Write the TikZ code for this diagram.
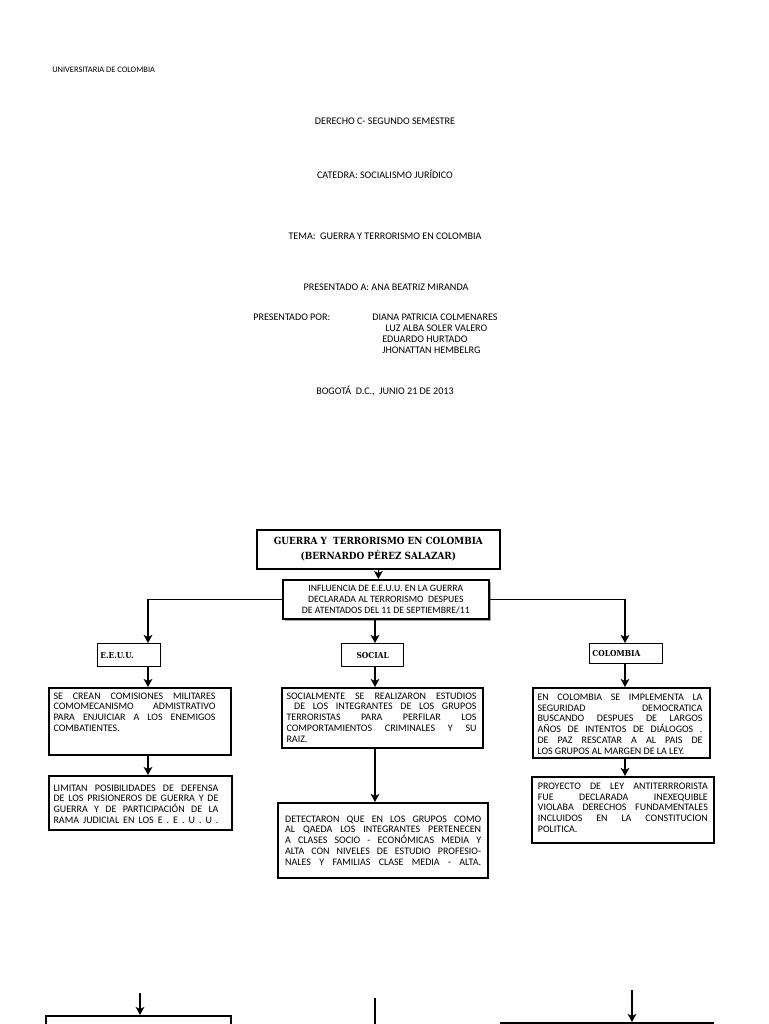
\documentclass[tikz,border=0pt]{standalone}
\usepackage{fontspec}
\setmainfont{Carlito}
\newfontfamily\slab{DejaVu Serif}[FakeStretch=0.9]
\usetikzlibrary{arrows.meta,shadows}
\newlength\jw
\newcommand\jl[1]{\makebox[\jw][s]{#1}\\}
% #1 box width px, #2 box height px, #3 text width px, #4 text
\newcommand\boxtxt[4]{\parbox[c][\dimexpr #2pt*3/4-7pt\relax][t]{\dimexpr #1pt*3/4-7pt\relax}{\setlength\jw{\dimexpr #3pt*3/4\relax}\fontsize{7.5}{8.1}\selectfont #4}}
\tikzset{
  arr/.style={line width=1.2pt,-{Stealth[length=6pt,width=6.5pt,inset=1.5pt]}},
  ln/.style={line width=1.2pt},
  bx/.style={draw,line width=1.3pt,inner sep=3.5pt,anchor=north west,fill=white},
  sbx/.style={draw,line width=1.1pt,inner xsep=2pt,inner ysep=0pt,anchor=north west,fill=white,
    font=\slab\bfseries\fontsize{6.2}{7}\selectfont},
  hd/.style={font=\fontsize{7.6}{9}\selectfont,inner sep=0pt}
}
\begin{document}
\begin{tikzpicture}[x=0.75pt,y=-0.75pt]
\useasboundingbox[fill=white] (0,0) rectangle (768,1024);
% header
\node[hd,anchor=west,font=\fontsize{6.3}{7}\selectfont] (uni) at (52,70) {UNIVERSITARIA DE COLOMBIA};
\node[hd] (der) at (385,121) {DERECHO C- SEGUNDO SEMESTRE};
\node[hd] (cat) at (385,174) {CATEDRA: SOCIALISMO JURÍDICO};
\node[hd] (tema) at (385,236) {TEMA:\ \ GUERRA Y TERRORISMO EN COLOMBIA};
\node[hd] (pa) at (386,287) {PRESENTADO A: ANA BEATRIZ MIRANDA};
\node[hd,anchor=west] (pp) at (253,317) {PRESENTADO POR:};
\node[hd,anchor=west] (n1) at (372,317) {DIANA PATRICIA COLMENARES};
\node[hd,anchor=west] (n2) at (385,328) {LUZ ALBA SOLER VALERO};
\node[hd,anchor=west] (n3) at (382,339) {EDUARDO HURTADO};
\node[hd,anchor=west] (n4) at (382,350) {JHONATTAN HEMBELRG};
\node[hd] (bog) at (385,391) {BOGOTÁ\ \ D.C.,\ \ JUNIO 21 DE 2013};
% diagram
\node[bx,minimum width=243*0.75pt,minimum height=39*0.75pt,align=center,inner sep=1pt,
  font=\slab\bfseries\fontsize{7.4}{11.5}\selectfont] (title) at (256,529)
  {GUERRA Y\ \ TERRORISMO EN COLOMBIA\\(BERNARDO PÉREZ SALAZAR)};
\node[bx,minimum width=206*0.75pt,minimum height=39*0.75pt,align=center,inner sep=1pt,
  drop shadow={shadow xshift=1.5pt,shadow yshift=-1.5pt,fill=black!70},
  font=\fontsize{7.3}{8.1}\selectfont] (infl) at (282,579)
  {INFLUENCIA DE E.E.U.U. EN LA GUERRA\\DECLARADA AL TERRORISMO\ \ DESPUES\\DE ATENTADOS DEL 11 DE SEPTIEMBRE/11};
\node[sbx,minimum width=63*0.75pt,minimum height=23*0.75pt,text width=63*0.75pt-4pt,align=left] (eeuu) at (97,643) {E.E.U.U.};
\node[sbx,minimum width=62*0.75pt,minimum height=23*0.75pt,text width=62*0.75pt-4pt,align=center] (soc) at (341,643) {SOCIAL};
\node[sbx,minimum width=73*0.75pt,minimum height=20*0.75pt,text width=73*0.75pt-4pt,align=left] (col) at (589,643) {COLOMBIA};
% row 1
\node[bx] (l1) at (48,687) {\boxtxt{182}{67}{162}{%
  \jl{SE CREAN COMISIONES MILITARES}\jl{COMOMECANISMO ADMISTRATIVO}\jl{PARA ENJUICIAR A LOS ENEMIGOS}COMBATIENTES.}};
\node[bx] (m1) at (281,687) {\boxtxt{201}{60}{190}{%
  \jl{SOCIALMENTE SE REALIZARON ESTUDIOS}\jl{\ DE LOS INTEGRANTES DE LOS GRUPOS}\jl{TERRORISTAS PARA PERFILAR LOS}\jl{COMPORTAMIENTOS CRIMINALES Y SU}RAIZ.}};
\node[bx] (r1) at (532,687) {\boxtxt{177}{70}{165}{\vspace*{1pt}%
  \jl{EN COLOMBIA SE IMPLEMENTA LA}\jl{SEGURIDAD DEMOCRATICA}\jl{BUSCANDO DESPUES DE LARGOS}\jl{AÑOS DE INTENTOS DE DIÁLOGOS .}\jl{DE PAZ RESCATAR A AL PAIS DE}LOS GRUPOS AL MARGEN DE LA LEY.}};
% row 2
\node[bx] (l2) at (48,775) {\boxtxt{183}{54}{165}{\vspace*{3pt}%
  \jl{LIMITAN POSIBILIDADES DE DEFENSA}\jl{DE LOS PRISIONEROS DE GUERRA Y DE}\jl{GUERRA Y DE PARTICIPACIÓN DE LA}\jl{RAMA JUDICIAL EN LOS E . E . U . U .}}};
\node[bx] (m2) at (277,802) {\boxtxt{210}{75}{196}{\vspace*{6pt}\hspace*{2pt}\parbox[t]{\jw}{%
  \jl{DETECTARON QUE EN LOS GRUPOS COMO}\jl{AL QAEDA LOS INTEGRANTES PERTENECEN}\jl{A CLASES SOCIO - ECONÓMICAS MEDIA Y}\jl{ALTA CON NIVELES DE ESTUDIO PROFESIO-}\jl{NALES Y FAMILIAS CLASE MEDIA - ALTA.}}}};
\node[bx] (r2) at (531,776) {\boxtxt{182}{66}{170}{\vspace*{1pt}\hspace*{1pt}\parbox[t]{\jw}{%
  \jl{PROYECTO DE LEY ANTITERRRORISTA}\jl{FUE DECLARADA INEXEQUIBLE}\jl{VIOLABA DERECHOS FUNDAMENTALES}\jl{INCLUIDOS EN LA CONSTITUCION}POLITICA.}}};
% bottom row (cut off)
\node[bx,minimum width=185*0.75pt,minimum height=30*0.75pt] (b1) at (45,1015) {};
\node[bx,minimum width=212*0.75pt,minimum height=30*0.75pt] (b3) at (500,1022) {};
\coordinate (lc) at (148,0);
\coordinate (sc) at (375,0);
\coordinate (rc) at (625,0);
\coordinate (b1s) at (140,993);
\coordinate (b2s) at (375,998);
\coordinate (b2e) at (375,1030);
\coordinate (b3s) at (632,990);
% connectors
\draw[arr] (title.south) -- (title.south |- infl.north);
\draw[arr] (infl.west) -| (lc |- eeuu.north);
\draw[arr] (infl.east) -| (rc |- col.north);
\draw[arr] (sc |- infl.south) -- (sc |- soc.north);
\draw[arr] (lc |- eeuu.south) -- (lc |- l1.north);
\draw[arr] (sc |- soc.south) -- (sc |- m1.north);
\draw[arr] (rc |- col.south) -- (rc |- r1.north);
\draw[arr] (lc |- l1.south) -- (lc |- l2.north);
\draw[arr] (sc |- m1.south) -- (sc |- m2.north);
\draw[arr] (rc |- r1.south) -- (rc |- r2.north);
\draw[arr] (b1s) -- (b1s |- b1.north);
\draw[ln] (b2s) -- (b2e);
\draw[arr] (b3s) -- (b3s |- b3.north);
\end{tikzpicture}
\end{document}
